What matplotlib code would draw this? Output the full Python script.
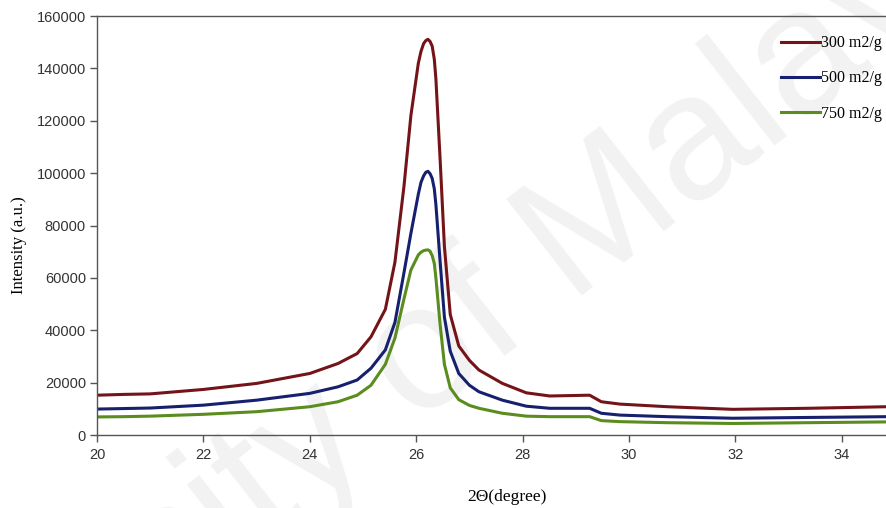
import matplotlib
matplotlib.use("Agg")
import matplotlib.pyplot as plt

# 2-theta positions (degree) and intensities for each surface area
two_theta = [20.0, 20.5, 21.0, 22.0, 23.0, 24.0, 24.53, 24.89, 25.15, 25.42,
             25.6, 25.77, 25.9, 26.04, 26.09, 26.14, 26.18, 26.22, 26.26,
             26.3, 26.34, 26.37, 26.45, 26.53, 26.64, 26.8, 27.0, 27.18,
             27.62, 28.07, 28.51, 29.26, 29.48, 29.83, 30.72, 31.95, 33.36,
             34.85]

i_300 = [15200, 15500, 15700, 17400, 19700, 23500, 27300, 31100, 37500, 48000,
         66000, 95000, 122000, 142000, 146500, 149500, 150600, 151100, 150300,
         148500, 143500, 136000, 105000, 72000, 46000, 34000, 28500, 24800,
         19700, 16100, 14900, 15200, 12700, 11800, 10800, 9800, 10200,
         10800]

i_500 = [9900, 10100, 10300, 11400, 13300, 15900, 18400, 21000, 25500, 32500,
         43000, 62000, 77000, 92000, 96500, 99000, 100300, 100700, 99800,
         98000, 94000, 88000, 66000, 45000, 32000, 23500, 19000, 16500,
         13300, 11000, 10200, 10200, 8300, 7600, 7000, 6400, 6700,
         7000]

i_750 = [6900, 7000, 7200, 7900, 8900, 10800, 12700, 15200, 19000, 27000,
         37000, 52000, 63000, 68800, 69800, 70400, 70600, 70700, 70200,
         68500, 65500, 60000, 42000, 27000, 18000, 13500, 11300, 10200,
         8300, 7200, 7000, 7000, 5500, 5100, 4700, 4400, 4700,
         5000]

labels = ["300 m2/g", "500 m2/g", "750 m2/g"]
colors = ["#741418", "#16206e", "#5a8c1e"]

fig = plt.figure(figsize=(8.87, 5.08), dpi=100)
ax = fig.add_axes([0.1094, 0.1437, 0.8906, 0.8248])
ax.set_zorder(1)
ax.set_facecolor("none")

# faint watermark behind the plot
fig.text(0.410, 0.197, "University of Malaya", fontsize=128, color="#f2f2f2",
         family="Liberation Sans", rotation=38, rotation_mode="anchor",
         ha="center", va="center", zorder=0)

for y, lab, c in zip([i_300, i_500, i_750], labels, colors):
    ax.plot(two_theta, y, color=c, lw=2.2, label=lab)

ax.set_xlim(20, 34.85)
ax.set_ylim(0, 160000)
ax.set_xticks([20, 22, 24, 26, 28, 30, 32, 34])
ax.set_yticks(range(0, 160001, 20000))

ax.spines["right"].set_visible(False)
for side in ["left", "bottom", "top"]:
    ax.spines[side].set_color("#555555")
    ax.spines[side].set_linewidth(1.0)

ax.tick_params(direction="out", length=5, width=1, color="#555555",
               labelsize=10.5, labelcolor="#333333")
for t in ax.get_xticklabels() + ax.get_yticklabels():
    t.set_family("Liberation Sans")
ax.tick_params(axis="x", pad=4)
ax.tick_params(axis="y", pad=3)

ax.set_ylabel("Intensity (a.u.)", family="Liberation Serif", fontsize=12)
ax.yaxis.set_label_coords(-0.0886, 0.453)
ax.set_xlabel("2\u0398(degree)", family="Liberation Serif", fontsize=12.5)
ax.xaxis.set_label_coords(0.519, -0.129)

ax.legend(loc="upper right", bbox_to_anchor=(0.994, 0.954), frameon=False,
          prop={"family": "Liberation Serif", "size": 11.5},
          handlelength=2.4, handletextpad=0.1, labelspacing=1.2,
          borderaxespad=0, borderpad=0)

fig.savefig("out.png", dpi=100)
